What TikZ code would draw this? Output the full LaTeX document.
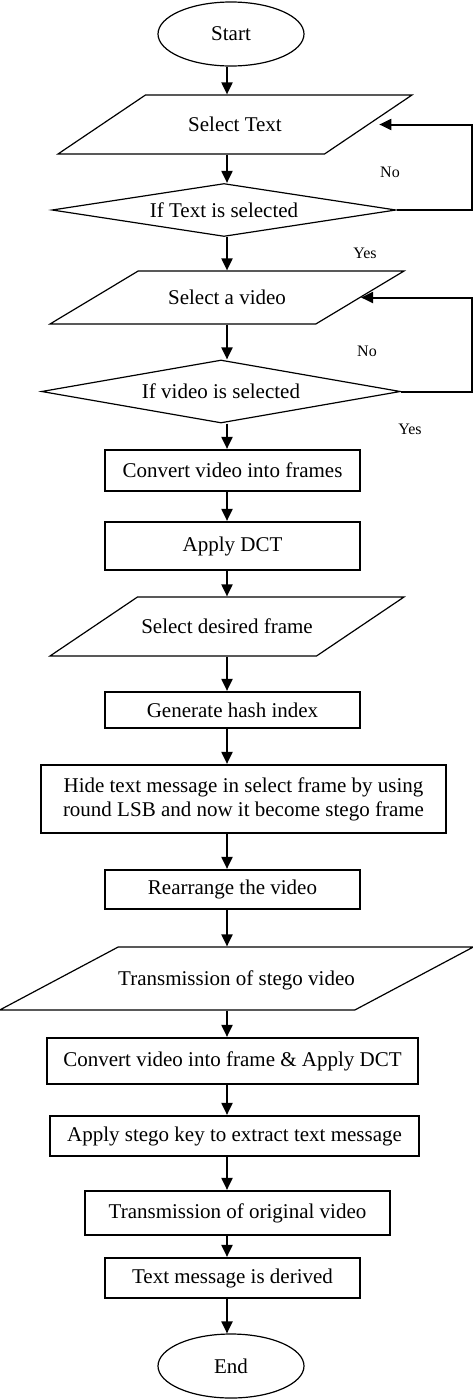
\documentclass[tikz,border=0pt]{standalone}
\usepackage{fontspec}
\setmainfont{Liberation Serif}
\usetikzlibrary{arrows.meta, positioning, shapes.geometric}

\begin{document}
\begin{tikzpicture}[x=1pt, y=-1pt,
    base/.style={inner sep=0pt, align=center, font=\fontsize{21}{24}\selectfont},
    term/.style={base, ellipse, draw, line width=1.2pt, minimum width=146pt, minimum height=64pt},
    proc/.style={base, rectangle, draw, line width=2.2pt, minimum width=255pt},
    io/.style={base, trapezium, draw, line width=1.2pt, trapezium stretches body,
        text height=17pt, text depth=3pt, minimum width=354pt},
    decision/.style={base, diamond, draw, line width=1.2pt},
    arr/.style={-{Triangle[length=12pt, width=11pt]}, line width=2pt},
    lbl/.style={font=\fontsize{16}{19}\selectfont, inner sep=0pt},
]
\useasboundingbox (0,0) rectangle (473,1400);

% --- Input loop: text and video ---
\node[term] at (231,34) (start) {Start};
\node[io, trapezium left angle=34, trapezium right angle=146, inner ysep=19.5pt] at (235,124.5) (selT) {Select Text};
\node[decision, aspect=6.5, minimum width=344pt, minimum height=53pt] at (224,210) (dec1) {If Text is selected};
\node[io, trapezium left angle=31, trapezium right angle=149, inner ysep=16.5pt] at (227,297.5) (selV) {Select a video};
\node[decision, aspect=5.7, minimum width=359pt, minimum height=63pt] at (221,391.5) (dec2) {If video is selected};

% --- Embedding steps ---
\node[proc, minimum height=41pt] at (232.5,470.5) (conv) {Convert video into frames};
\node[proc, minimum height=48pt] at (232.5,546) (dct) {Apply DCT};
\node[io, trapezium left angle=34, trapezium right angle=146, inner ysep=19.5pt] at (227,626.5) (selF) {Select desired frame};
\node[proc, minimum height=36pt] at (232.5,710) (hash) {Generate hash index};
\node[proc, minimum width=405pt, minimum height=68pt] at (243.5,799) (hide) {Hide text message in select frame by using\\round LSB and now it become stego frame};
\node[proc, minimum height=39pt] at (232.5,889.5) (rearr) {Rearrange the video};
\node[io, trapezium left angle=28, trapezium right angle=152, inner ysep=21.5pt, minimum width=473pt] at (236.5,978.5) (sendS) {Transmission of stego video};

% --- Extraction steps ---
\node[proc, minimum width=371pt, minimum height=46pt] at (232.5,1061) (conv2) {Convert video into frame \& Apply DCT};
\node[proc, minimum width=369pt, minimum height=40pt] at (234.5,1136) (key) {Apply stego key to extract text message};
\node[proc, minimum width=305pt, minimum height=44pt] at (237.5,1213) (sendO) {Transmission of original video};
\node[proc, minimum height=40pt] at (232.5,1278) (derived) {Text message is derived};
\node[term] at (231,1366) (stop) {End};

% --- Branch labels ---
\node[lbl] at (390,172) (no1) {No};
\node[lbl] at (365,253) (yes1) {Yes};
\node[lbl] at (367,351) (no2) {No};
\node[lbl] at (410,429) (yes2) {Yes};

% --- Main flow (one vertical spine) ---
\coordinate (spine) at (227,0);
\draw[arr] (spine |- start.south)   -- (spine |- selT.north);
\draw[arr] (spine |- selT.south)    -- (spine |- dec1.north);
\draw[arr] (spine |- dec1.south)    -- (spine |- selV.north);
\draw[arr] (spine |- selV.south)    -- (spine |- dec2.north);
\draw[arr] (spine |- dec2.south)    -- (spine |- conv.north);
\draw[arr] (spine |- conv.south)    -- (spine |- dct.north);
\draw[arr] (spine |- dct.south)     -- (spine |- selF.north);
\draw[arr] (spine |- selF.south)    -- (spine |- hash.north);
\draw[arr] (spine |- hash.south)    -- (spine |- hide.north);
\draw[arr] (spine |- hide.south)    -- (spine |- rearr.north);
\draw[arr] (spine |- rearr.south)   -- (spine |- sendS.north);
\draw[arr] (spine |- sendS.south)   -- (spine |- conv2.north);
\draw[arr] (spine |- conv2.south)   -- (spine |- key.north);
\draw[arr] (spine |- key.south)     -- (spine |- sendO.north);
\draw[arr] (spine |- sendO.south)   -- (spine |- derived.north);
\draw[arr] (spine |- derived.south) -- (spine |- stop.north);

% --- "No" loops back up the right side ---
\coordinate (rail) at (472,0);
\draw[arr, shorten >=10pt] (dec1.east) -- (dec1.east -| rail) |- (selT);
\draw[arr] (dec2.east) -- (dec2.east -| rail) |- (selV);

\end{tikzpicture}
\end{document}
